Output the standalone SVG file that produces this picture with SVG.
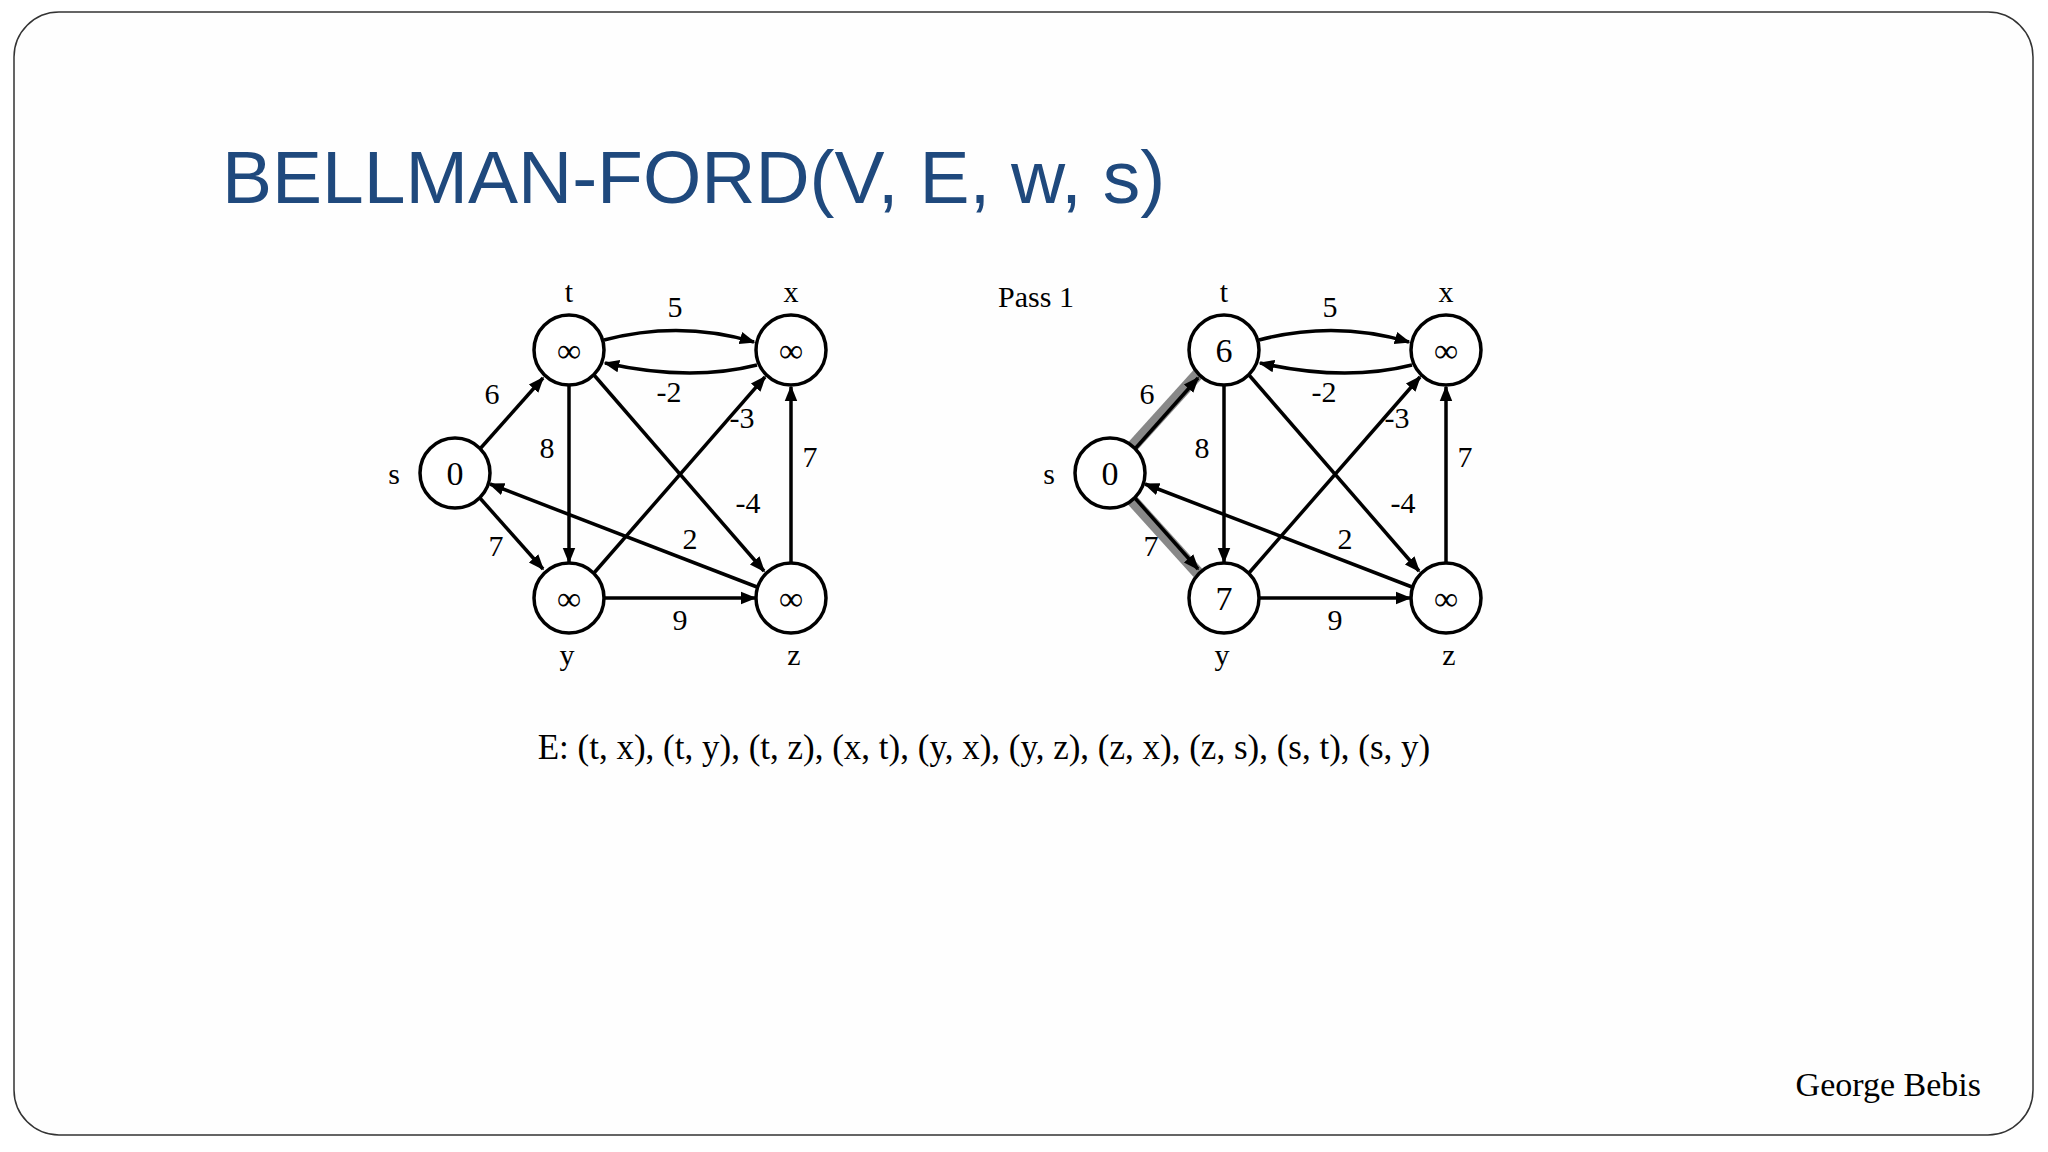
<svg xmlns="http://www.w3.org/2000/svg" width="2048" height="1152" viewBox="0 0 2048 1152">
<defs>
<marker id="a" viewBox="0 0 10 10" refX="9" refY="5" markerWidth="4.5" markerHeight="4.5" orient="auto"><path d="M0,1 L10,5 L0,9 z" fill="#000"/></marker>
<style>
.n circle{fill:#fff;stroke:#000;stroke-width:3.5}
.n text,.l{font-family:"Liberation Serif",serif;font-size:30px;text-anchor:middle;fill:#000}
.v{font-size:34px!important}
.e{stroke:#000;stroke-width:3.5;fill:none;marker-end:url(#a)}
.h{stroke:#888;stroke-width:12;fill:none}
</style>
</defs>
<rect x="14" y="12" width="2019" height="1123" rx="45" fill="#fefefe" stroke="#333" stroke-width="1.5"/>
<text x="222" y="203" font-family="Liberation Sans,Arial,sans-serif" font-size="75" fill="#1f497d">BELLMAN-FORD(V, E, w, s)</text>
<g id="connectors">
<path class="e" d="M604,340 Q680,320 754,342"/>
<path class="e" d="M757,365 Q690,382 605,363"/>
<line class="e" x1="479" y1="450" x2="543" y2="378"/>
<line class="e" x1="479" y1="497" x2="543" y2="569"/>
<line class="e" x1="569" y1="385" x2="569" y2="562"/>
<line class="e" x1="594" y1="375" x2="764" y2="571"/>
<line class="e" x1="594" y1="573" x2="765" y2="377"/>
<line class="e" x1="791" y1="563" x2="791" y2="387"/>
<line class="e" x1="757" y1="587" x2="490" y2="484"/>
<line class="e" x1="604" y1="598" x2="755" y2="598"/>
<line class="h" x1="1132" y1="447" x2="1198" y2="374"/>
<line class="h" x1="1132" y1="500" x2="1198" y2="573"/>
<path class="e" d="M1259,340 Q1335,320 1409,342"/>
<path class="e" d="M1412,365 Q1345,382 1260,363"/>
<line class="e" x1="1134" y1="450" x2="1198" y2="378"/>
<line class="e" x1="1134" y1="497" x2="1198" y2="569"/>
<line class="e" x1="1224" y1="385" x2="1224" y2="562"/>
<line class="e" x1="1249" y1="375" x2="1419" y2="571"/>
<line class="e" x1="1249" y1="573" x2="1420" y2="377"/>
<line class="e" x1="1446" y1="563" x2="1446" y2="387"/>
<line class="e" x1="1412" y1="587" x2="1145" y2="484"/>
<line class="e" x1="1259" y1="598" x2="1410" y2="598"/>
</g>
<g class="l">
<text class="l" x="675" y="317">5</text><text class="l" x="669" y="402">-2</text><text class="l" x="492" y="404">6</text><text class="l" x="547" y="458">8</text><text class="l" x="742" y="428">-3</text><text class="l" x="810" y="467">7</text><text class="l" x="748" y="513">-4</text><text class="l" x="690" y="549">2</text><text class="l" x="496" y="556">7</text><text class="l" x="680" y="630">9</text>
<text class="l" x="569" y="302">t</text><text class="l" x="791" y="302">x</text><text class="l" x="394" y="484">s</text><text class="l" x="567" y="665">y</text><text class="l" x="794" y="665">z</text>
<text class="l" x="1330" y="317">5</text><text class="l" x="1324" y="402">-2</text><text class="l" x="1147" y="404">6</text><text class="l" x="1202" y="458">8</text><text class="l" x="1397" y="428">-3</text><text class="l" x="1465" y="467">7</text><text class="l" x="1403" y="513">-4</text><text class="l" x="1345" y="549">2</text><text class="l" x="1151" y="556">7</text><text class="l" x="1335" y="630">9</text>
<text class="l" x="1224" y="302">t</text><text class="l" x="1446" y="302">x</text><text class="l" x="1049" y="484">s</text><text class="l" x="1222" y="665">y</text><text class="l" x="1449" y="665">z</text>
<text class="l" x="1036" y="307">Pass 1</text>
<text class="l" x="984" y="759" style="font-size:35px">E: (t, x), (t, y), (t, z), (x, t), (y, x), (y, z), (z, x), (z, s), (s, t), (s, y)</text>
<text class="l" x="1981" y="1096" style="font-size:34px;text-anchor:end">George Bebis</text>
</g>
<g id="s1" class="n"><circle cx="455" cy="473" r="35"/><text class="v" x="455" y="485">0</text></g>
<g id="t1" class="n"><circle cx="569" cy="350" r="35"/><text class="v" x="569" y="362">∞</text></g>
<g id="x1" class="n"><circle cx="791" cy="350" r="35"/><text class="v" x="791" y="362">∞</text></g>
<g id="y1" class="n"><circle cx="569" cy="598" r="35"/><text class="v" x="569" y="610">∞</text></g>
<g id="z1" class="n"><circle cx="791" cy="598" r="35"/><text class="v" x="791" y="610">∞</text></g>
<g id="s2" class="n"><circle cx="1110" cy="473" r="35"/><text class="v" x="1110" y="485">0</text></g>
<g id="t2" class="n"><circle cx="1224" cy="350" r="35"/><text class="v" x="1224" y="362">6</text></g>
<g id="x2" class="n"><circle cx="1446" cy="350" r="35"/><text class="v" x="1446" y="362">∞</text></g>
<g id="y2" class="n"><circle cx="1224" cy="598" r="35"/><text class="v" x="1224" y="610">7</text></g>
<g id="z2" class="n"><circle cx="1446" cy="598" r="35"/><text class="v" x="1446" y="610">∞</text></g>
</svg>
